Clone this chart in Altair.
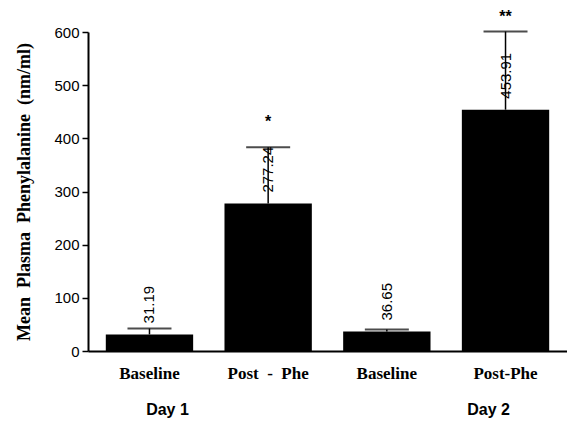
import altair as alt
import pandas as pd

# ---- data ----
keys = ["B1", "P1", "B2", "P2"]
x_labels = ["Baseline", "Post\u00a0 -\u00a0 Phe", "Baseline", "Post-Phe"]
means = [31.19, 277.24, 36.65, 453.91]
value_text = ["31.19", "277.24", "36.65", "453.91"]
errors = [11, 106, 4, 147]
star_keys = ["P1", "P2"]
star_text = ["*", "**"]
star_pos = [438, 636]
y_ticks = [0, 100, 200, 300, 400, 500, 600]

df = pd.DataFrame({
    "key": keys,
    "mean": means,
    "txt": value_text,
    "upper": [m + e for m, e in zip(means, errors)],
})
stars_df = pd.DataFrame({"key": star_keys, "s": star_text, "pos": star_pos})

label_expr = "[" + ",".join("'%s'" % l for l in x_labels) + "][indexof([" + ",".join(
    "'%s'" % k for k in keys) + "], datum.value)]"

x_enc = alt.X(
    "key:N",
    sort=keys,
    scale=alt.Scale(paddingInner=0.264, paddingOuter=0.15),
    axis=alt.Axis(
        title=None, labelExpr=label_expr, labelAngle=0, ticks=False,
        domainColor="black", domainWidth=2, labelFont="Liberation Serif",
        labelFontWeight="bold", labelFontSize=17, labelColor="black",
        labelPadding=14,
    ),
)
y_scale = alt.Scale(domain=[0, 600], nice=False, zero=True)
y_axis = alt.Axis(
    values=y_ticks, grid=False, domainColor="black", domainWidth=2,
    tickColor="black", tickWidth=1.5, tickSize=6, labelPadding=3,
    labelFont="Liberation Sans", labelFontSize=15, labelColor="black",
    title="Mean\u00a0 Plasma\u00a0 Phenylalanine\u00a0 (nm/ml)",
    titleFont="Liberation Serif", titleFontWeight="bold", titleFontSize=18,
    titleColor="black", titlePadding=20,
)

base = alt.Chart(df)

bars = base.mark_bar(color="black").encode(
    x=x_enc,
    y=alt.Y("mean:Q", scale=y_scale, axis=y_axis),
)
err_rule = base.mark_rule(color="black", strokeWidth=1.5).encode(
    x=alt.X("key:N", sort=keys), y="mean:Q", y2="upper:Q"
)
err_cap = base.mark_tick(color="black", thickness=2, size=44).encode(
    x=alt.X("key:N", sort=keys), y="upper:Q"
)
vals = base.mark_text(
    angle=270, align="left", baseline="middle", dx=11,
    font="Liberation Sans", fontSize=15, color="black",
).encode(x=alt.X("key:N", sort=keys), y="mean:Q", text="txt:N")

stars = alt.Chart(stars_df).mark_text(
    baseline="middle", font="Liberation Sans", fontSize=16,
    fontWeight="bold", color="black", dy=4,
).encode(x=alt.X("key:N", sort=keys), y="pos:Q", text="s:N")

day1 = alt.Chart(pd.DataFrame({"key": ["B1"], "d": ["Day 1"]})).mark_text(
    font="Liberation Sans", fontWeight="bold", fontSize=16, color="black",
    baseline="middle", dx=18,
).encode(x=alt.X("key:N", sort=keys), y=alt.value(378), text="d:N")
day2 = alt.Chart(pd.DataFrame({"key": ["P2"], "d": ["Day 2"]})).mark_text(
    font="Liberation Sans", fontWeight="bold", fontSize=16, color="black",
    baseline="middle", dx=-17,
).encode(x=alt.X("key:N", sort=keys), y=alt.value(378), text="d:N")

chart = alt.layer(bars, err_rule, err_cap, vals, stars, day1, day2).properties(
    width=479, height=319,
    autosize=alt.AutoSizeParams(type="none"),
    padding={"left": 88, "top": 32, "right": 0, "bottom": 72},
    background="white",
).configure_view(stroke=None)

chart.save("out.html", embed_options={"renderer": "svg", "actions": False})
